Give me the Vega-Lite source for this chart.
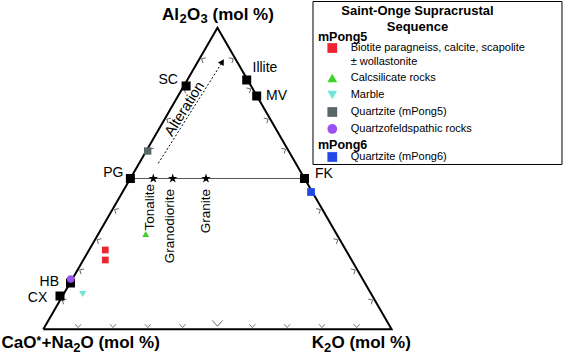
{
  "$schema": "https://vega.github.io/schema/vega-lite/v6.json",
  "width": 564,
  "height": 362,
  "autosize": {"type": "fit", "contains": "padding"},
  "padding": 0,
  "background": "white",
  "config": {"view": {"stroke": null}, "text": {"font": "Liberation Sans"}},
  "datasets": {
    "edges": [
      {"x": 0, "y": 0, "o": 1},
      {"x": 50, "y": 86.6, "o": 2},
      {"x": 100, "y": 0, "o": 3},
      {"x": 0, "y": 0, "o": 4}
    ],
    "tie": [
      {"x": 25, "y": 43.3, "o": 1},
      {"x": 75, "y": 43.3, "o": 2}
    ],
    "ticks": [
      {"edge": "bottom", "pct": 10, "x": 10, "y": 0},
      {"edge": "bottom", "pct": 20, "x": 20, "y": 0},
      {"edge": "bottom", "pct": 30, "x": 30, "y": 0},
      {"edge": "bottom", "pct": 40, "x": 40, "y": 0},
      {"edge": "bottom", "pct": 50, "x": 50, "y": 0},
      {"edge": "bottom", "pct": 60, "x": 60, "y": 0},
      {"edge": "bottom", "pct": 70, "x": 70, "y": 0},
      {"edge": "bottom", "pct": 80, "x": 80, "y": 0},
      {"edge": "bottom", "pct": 90, "x": 90, "y": 0},
      {"edge": "left", "pct": 10, "x": 5, "y": 8.66},
      {"edge": "left", "pct": 20, "x": 10, "y": 17.32},
      {"edge": "left", "pct": 30, "x": 15, "y": 25.98},
      {"edge": "left", "pct": 40, "x": 20, "y": 34.64},
      {"edge": "left", "pct": 60, "x": 30, "y": 51.96},
      {"edge": "left", "pct": 70, "x": 35, "y": 60.62},
      {"edge": "left", "pct": 80, "x": 40, "y": 69.28},
      {"edge": "left", "pct": 90, "x": 45, "y": 77.94},
      {"edge": "right", "pct": 10, "x": 95, "y": 8.66},
      {"edge": "right", "pct": 20, "x": 90, "y": 17.32},
      {"edge": "right", "pct": 30, "x": 85, "y": 25.98},
      {"edge": "right", "pct": 40, "x": 80, "y": 34.64},
      {"edge": "right", "pct": 60, "x": 70, "y": 51.96},
      {"edge": "right", "pct": 70, "x": 65, "y": 60.62},
      {"edge": "right", "pct": 80, "x": 60, "y": 69.28},
      {"edge": "right", "pct": 90, "x": 55, "y": 77.94}
    ],
    "minerals": [
      {"name": "SC", "x": 41.0, "y": 69.85, "lx": 38.67, "ly": 71.58, "side": "left"},
      {"name": "Illite", "x": 58.4, "y": 71.58, "lx": 60.06, "ly": 74.94, "side": "right"},
      {"name": "MV", "x": 61.27, "y": 66.98, "lx": 63.94, "ly": 66.98, "side": "right"},
      {"name": "PG", "x": 25.0, "y": 43.3, "lx": 23.03, "ly": 44.96, "side": "left"},
      {"name": "FK", "x": 75.0, "y": 43.3, "lx": 78.0, "ly": 44.59, "side": "right"},
      {"name": "HB", "x": 7.81, "y": 13.29, "lx": 4.51, "ly": 13.67, "side": "left"},
      {"name": "CX", "x": 4.79, "y": 9.56, "lx": 1.15, "ly": 9.07, "side": "left"}
    ],
    "samples": [
      {"group": "Biotite", "x": 17.8, "y": 22.77},
      {"group": "Biotite", "x": 17.8, "y": 19.9},
      {"group": "Calcsilicate", "x": 29.4, "y": 27.36},
      {"group": "Marble", "x": 11.31, "y": 10.13},
      {"group": "Quartzite5", "x": 29.97, "y": 51.19},
      {"group": "Quartzofeldspathic", "x": 7.87, "y": 14.44},
      {"group": "Quartzite6", "x": 76.86, "y": 39.42}
    ],
    "granitoids": [
      {"name": "Tonalite", "x": 31.58, "y": 43.3, "lx": 30.63, "ly": 41.72},
      {"name": "Granodiorite", "x": 37.15, "y": 43.3, "lx": 36.38, "ly": 40.28},
      {"name": "Granite", "x": 46.71, "y": 43.3, "lx": 46.63, "ly": 40.28}
    ],
    "alteration": [
      {"x": 33.02, "y": 47.66, "o": 1},
      {"x": 51.28, "y": 76.54, "o": 2}
    ],
    "arrowhead": [{"x": 51.4, "y": 76.8}],
    "alterationLabel": [{"label": "Alteration", "x": 40.68, "y": 63.22}],
    "titles": [
      {"label": "Al", "x": 34.08, "y": 88.8, "part": "main"},
      {"label": "2", "x": 39.1, "y": 87.8, "part": "sub"},
      {"label": "O", "x": 41.26, "y": 88.8, "part": "main"},
      {"label": "3", "x": 45.13, "y": 87.8, "part": "sub"},
      {"label": "(mol %)", "x": 48.58, "y": 88.8, "part": "main"},
      {"label": "CaO", "x": -12.0, "y": -5.455, "part": "main"},
      {"label": "*", "x": -1.95, "y": -4.6, "part": "sup"},
      {"label": "+Na", "x": -0.52, "y": -5.455, "part": "main"},
      {"label": "2", "x": 8.58, "y": -6.517, "part": "sub"},
      {"label": "O (mol %)", "x": 10.68, "y": -5.455, "part": "main"},
      {"label": "K", "x": 77.06, "y": -5.455, "part": "main"},
      {"label": "2", "x": 80.59, "y": -6.517, "part": "sub"},
      {"label": "O (mol %)", "x": 82.74, "y": -5.455, "part": "main"}
    ],
    "legendBox": [{"x": 77.43, "x2": 148.92, "y": 94.11, "y2": 47.32}],
    "legendTitle": [
      {"label": "Saint-Onge Supracrustal", "x": 107.43, "y": 91.39},
      {"label": "Sequence", "x": 107.43, "y": 86.79}
    ],
    "legendHeads": [
      {"label": "mPong5", "x": 78.87, "y": 83.92},
      {"label": "mPong6", "x": 78.87, "y": 52.91}
    ],
    "legendItems": [
      {"group": "Biotite", "x": 82.97, "y": 80.76},
      {"group": "Calcsilicate", "x": 82.97, "y": 72.15},
      {"group": "Marble", "x": 82.97, "y": 67.27},
      {"group": "Quartzite5", "x": 82.97, "y": 62.39},
      {"group": "Quartzofeldspathic", "x": 82.97, "y": 57.51},
      {"group": "Quartzite6", "x": 82.97, "y": 49.47}
    ],
    "legendLabels": [
      {"label": "Biotite paragneiss, calcite, scapolite", "x": 88.26, "y": 80.76},
      {"label": "± wollastonite", "x": 88.26, "y": 76.74},
      {"label": "Calcsilicate rocks", "x": 88.26, "y": 72.15},
      {"label": "Marble", "x": 88.26, "y": 67.27},
      {"label": "Quartzite (mPong5)", "x": 88.26, "y": 62.39},
      {"label": "Quartzofeldspathic rocks", "x": 88.26, "y": 57.51},
      {"label": "Quartzite (mPong6)", "x": 88.26, "y": 49.47}
    ]
  },
  "encoding": {
    "x": {"field": "x", "type": "quantitative", "scale": {"domain": [-12.432, 149.498], "nice": false, "zero": false}, "axis": null},
    "y": {"field": "y", "type": "quantitative", "scale": {"domain": [-9.388, 94.545], "nice": false, "zero": false}, "axis": null}
  },
  "layer": [
    {
      "data": {"name": "tie"},
      "mark": {"type": "line", "color": "#555555", "strokeWidth": 1},
      "encoding": {"order": {"field": "o"}}
    },
    {
      "data": {"name": "edges"},
      "mark": {"type": "line", "color": "#000000", "strokeWidth": 2, "strokeJoin": "miter"},
      "encoding": {"order": {"field": "o"}}
    },
    {
      "data": {"name": "ticks"},
      "transform": [{"filter": "datum.edge == 'bottom' && datum.pct != 50"}],
      "mark": {"type": "point", "shape": "M-1,-1.7L0,-0.6L1,-1.7", "filled": false, "stroke": "#555555", "strokeWidth": 0.8, "size": 36, "opacity": 1},
      "encoding": {}
    },
    {
      "data": {"name": "ticks"},
      "transform": [{"filter": "datum.edge == 'bottom' && datum.pct == 50"}],
      "mark": {"type": "point", "shape": "M-1,-1.7L0,-0.6L1,-1.7", "filled": false, "stroke": "#555555", "strokeWidth": 0.9, "size": 110, "opacity": 1},
      "encoding": {}
    },
    {
      "data": {"name": "ticks"},
      "transform": [{"filter": "datum.edge == 'left'"}],
      "mark": {"type": "point", "shape": "M-1,-1.7L0,-0.6L1,-1.7", "filled": false, "stroke": "#555555", "strokeWidth": 0.8, "size": 36, "angle": 120, "opacity": 1},
      "encoding": {}
    },
    {
      "data": {"name": "ticks"},
      "transform": [{"filter": "datum.edge == 'right'"}],
      "mark": {"type": "point", "shape": "M-1,-1.7L0,-0.6L1,-1.7", "filled": false, "stroke": "#555555", "strokeWidth": 0.8, "size": 36, "angle": 240, "opacity": 1},
      "encoding": {}
    },
    {
      "data": {"name": "alteration"},
      "mark": {"type": "line", "color": "#000000", "strokeWidth": 1, "strokeDash": [2, 2]},
      "encoding": {"order": {"field": "o"}}
    },
    {
      "data": {"name": "arrowhead"},
      "mark": {"type": "point", "shape": "triangle-up", "filled": true, "color": "#000000", "size": 45, "angle": 32, "opacity": 1},
      "encoding": {}
    },
    {
      "data": {"name": "alterationLabel"},
      "mark": {"type": "text", "fontSize": 14.5, "angle": -57.7, "align": "center", "baseline": "middle", "color": "#000000"},
      "encoding": {"text": {"field": "label"}}
    },
    {
      "data": {"name": "minerals"},
      "mark": {"type": "point", "shape": "square", "filled": true, "color": "#000000", "size": 81, "opacity": 1},
      "encoding": {}
    },
    {
      "data": {"name": "minerals"},
      "transform": [{"filter": "datum.side == 'left'"}],
      "mark": {"type": "text", "fontSize": 14, "align": "right", "baseline": "middle", "color": "#000000"},
      "encoding": {
        "x": {"field": "lx", "type": "quantitative"},
        "y": {"field": "ly", "type": "quantitative"},
        "text": {"field": "name"}
      }
    },
    {
      "data": {"name": "minerals"},
      "transform": [{"filter": "datum.side == 'right'"}],
      "mark": {"type": "text", "fontSize": 14, "align": "left", "baseline": "middle", "color": "#000000"},
      "encoding": {
        "x": {"field": "lx", "type": "quantitative"},
        "y": {"field": "ly", "type": "quantitative"},
        "text": {"field": "name"}
      }
    },
    {
      "data": {"name": "granitoids"},
      "mark": {"type": "point", "shape": "M0,-1L0.225,-0.309L0.951,-0.309L0.363,0.118L0.588,0.809L0,0.382L-0.588,0.809L-0.363,0.118L-0.951,-0.309L-0.225,-0.309Z", "filled": true, "color": "#000000", "size": 100, "opacity": 1},
      "encoding": {}
    },
    {
      "data": {"name": "granitoids"},
      "mark": {"type": "text", "fontSize": 13.5, "angle": 270, "align": "right", "baseline": "middle", "color": "#000000"},
      "encoding": {
        "x": {"field": "lx", "type": "quantitative"},
        "y": {"field": "ly", "type": "quantitative"},
        "text": {"field": "name"}
      }
    },
    {
      "data": {"name": "samples"},
      "mark": {"type": "point", "filled": true, "opacity": 1, "strokeWidth": 0},
      "encoding": {
        "shape": {"field": "group", "type": "nominal", "legend": null, "scale": {"domain": ["Biotite", "Calcsilicate", "Marble", "Quartzite5", "Quartzofeldspathic", "Quartzite6"], "range": ["square", "triangle-up", "triangle-down", "square", "circle", "square"]}},
        "color": {"field": "group", "type": "nominal", "legend": null, "scale": {"domain": ["Biotite", "Calcsilicate", "Marble", "Quartzite5", "Quartzofeldspathic", "Quartzite6"], "range": ["#ec2430", "#3fd12a", "#6fe6d6", "#5a6668", "#9b50f0", "#2248e8"]}},
        "size": {"field": "group", "type": "nominal", "legend": null, "scale": {"domain": ["Biotite", "Calcsilicate", "Marble", "Quartzite5", "Quartzofeldspathic", "Quartzite6"], "range": [45, 60, 130, 36, 55, 45]}}
      }
    },
    {
      "data": {"name": "titles"},
      "transform": [{"filter": "datum.part == 'main'"}],
      "mark": {"type": "text", "fontSize": 17, "fontWeight": "bold", "align": "left", "baseline": "alphabetic", "color": "#000000"},
      "encoding": {"text": {"field": "label"}}
    },
    {
      "data": {"name": "titles"},
      "transform": [{"filter": "datum.part == 'sub'"}],
      "mark": {"type": "text", "fontSize": 13, "fontWeight": "bold", "align": "left", "baseline": "alphabetic", "color": "#000000"},
      "encoding": {"text": {"field": "label"}}
    },
    {
      "data": {"name": "titles"},
      "transform": [{"filter": "datum.part == 'sup'"}],
      "mark": {"type": "text", "fontSize": 12, "fontWeight": "bold", "align": "left", "baseline": "alphabetic", "color": "#000000"},
      "encoding": {"text": {"field": "label"}}
    },
    {
      "data": {"name": "legendBox"},
      "mark": {"type": "rect", "fill": "#ffffff", "stroke": "#000000", "strokeWidth": 1},
      "encoding": {"x2": {"field": "x2"}, "y2": {"field": "y2"}}
    },
    {
      "data": {"name": "legendTitle"},
      "mark": {"type": "text", "fontSize": 13, "fontWeight": "bold", "align": "center", "baseline": "middle", "color": "#000000"},
      "encoding": {"text": {"field": "label"}}
    },
    {
      "data": {"name": "legendHeads"},
      "mark": {"type": "text", "fontSize": 12.5, "fontWeight": "bold", "align": "left", "baseline": "middle", "color": "#000000"},
      "encoding": {"text": {"field": "label"}}
    },
    {
      "data": {"name": "legendItems"},
      "mark": {"type": "point", "filled": true, "opacity": 1, "strokeWidth": 0, "size": 95},
      "encoding": {
        "shape": {"field": "group", "type": "nominal"},
        "color": {"field": "group", "type": "nominal"}
      }
    },
    {
      "data": {"name": "legendLabels"},
      "mark": {"type": "text", "fontSize": 11, "align": "left", "baseline": "middle", "color": "#000000"},
      "encoding": {"text": {"field": "label"}}
    }
  ]
}
